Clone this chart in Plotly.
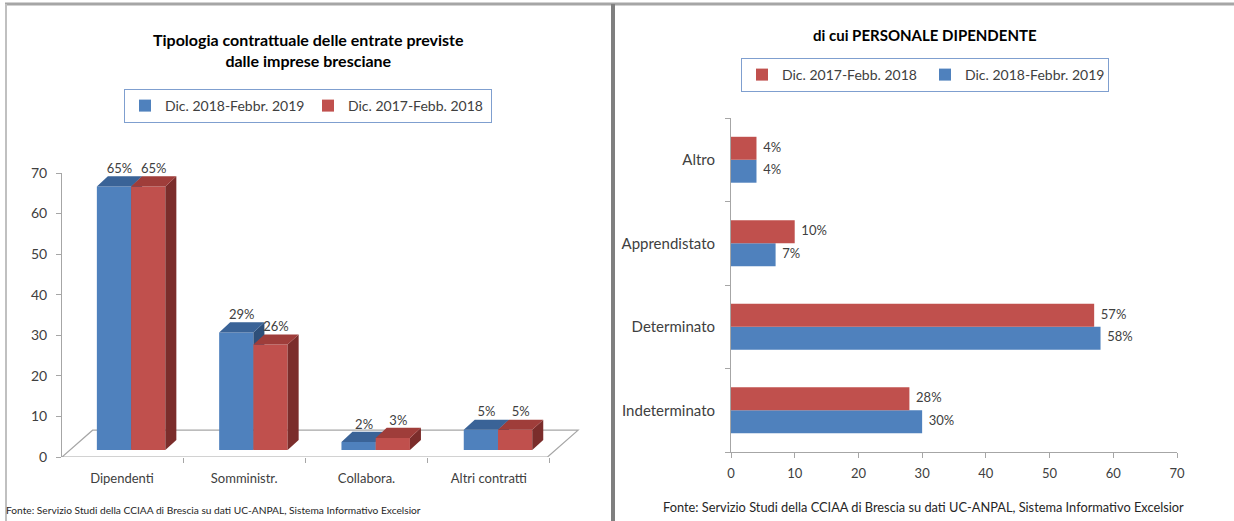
import plotly.graph_objects as go

# ---- data ---------------------------------------------------------------
left_categories = ["Dipendenti", "Somministr.", "Collabora.", "Altri contratti"]
left_2019 = [65, 29, 2, 5]
left_2018 = [65, 26, 3, 5]

right_categories = ["Indeterminato", "Determinato", "Apprendistato", "Altro"]
right_2019 = [30, 58, 7, 4]
right_2018 = [28, 57, 10, 4]

label_2019 = "Dic. 2018-Febbr. 2019"
label_2018 = "Dic. 2017-Febb. 2018"

title_left = "<b>Tipologia contrattuale delle entrate previste<br>dalle imprese bresciane</b>"
title_right = "<b>di cui PERSONALE DIPENDENTE</b>"
source = "Fonte: Servizio Studi della CCIAA di Brescia su dati UC-ANPAL, Sistema Informativo Excelsior"

# ---- style --------------------------------------------------------------
FONT = "Lato"
W_PX, H_PX = 1234, 521
BLUE, BLUE_TOP, BLUE_SIDE = "#4f81bd", "#3a6397", "#2e4f79"
RED, RED_TOP, RED_SIDE = "#c0504d", "#9f3d3a", "#7b2d2b"
TXT = "#404040"
AXIS = "#a6a6a6"

# pseudo-3D geometry for the left chart (data units)
BASE, SHIFT, BW, DX, DY = 1.7, 0.075, 0.28, 0.09, 2.5
BW_R = 0.275


def px(x):
    return x / W_PX


def py(y):
    return 1 - y / H_PX


def faces(values, offset):
    top_x, top_y, side_x, side_y = [], [], [], []
    for i, v in enumerate(values):
        x0 = i + SHIFT + offset
        x1 = x0 + BW
        t = BASE + v
        top_x += [x0, x0 + DX, x1 + DX, x1, x0, None]
        top_y += [t, t + DY, t + DY, t, t, None]
        side_x += [x1, x1 + DX, x1 + DX, x1, x1, None]
        side_y += [BASE, BASE + DY, t + DY, t, BASE, None]
    return top_x, top_y, side_x, side_y


fig = go.Figure()

# ---- left chart: one subplot per series so red sits in front ------------
for vals, name, front, top, side, offset, xa, ya in [
    (left_2019, label_2019, BLUE, BLUE_TOP, BLUE_SIDE, -BW, "x", "y"),
    (left_2018, label_2018, RED, RED_TOP, RED_SIDE, 0.0, "x3", "y3"),
]:
    pos = [i + SHIFT for i in range(len(vals))]
    fig.add_trace(go.Bar(
        x=pos, y=vals, base=BASE, width=BW, offset=offset,
        marker=dict(color=front, line=dict(width=0)),
        name=name, legend="legend", xaxis=xa, yaxis=ya, hoverinfo="skip",
    ))
    tx, ty, sx, sy = faces(vals, offset)
    fig.add_trace(go.Scatter(x=sx, y=sy, fill="toself", fillcolor=side, mode="lines",
                             line=dict(width=0), showlegend=False, xaxis=xa, yaxis=ya,
                             hoverinfo="skip"))
    fig.add_trace(go.Scatter(x=tx, y=ty, fill="toself", fillcolor=top, mode="lines",
                             line=dict(width=0), showlegend=False, xaxis=xa, yaxis=ya,
                             hoverinfo="skip"))
    fig.add_trace(go.Scatter(
        x=[p + offset + BW / 2 + DX / 2 for p in pos],
        y=[BASE + v + DY for v in vals],
        text=[f"{v}%" for v in vals], mode="text", textposition="top center",
        textfont=dict(size=13, color=TXT, family=FONT),
        showlegend=False, cliponaxis=False, xaxis=xa, yaxis=ya, hoverinfo="skip",
    ))

# ---- right chart --------------------------------------------------------
for vals, name, color, offset, rank in [
    (right_2019, label_2019, BLUE, -BW_R, 2),
    (right_2018, label_2018, RED, 0.0, 1),
]:
    pos = list(range(len(vals)))
    fig.add_trace(go.Bar(
        x=vals, y=pos, orientation="h", width=BW_R, offset=offset,
        marker=dict(color=color, line=dict(width=0)),
        name=name, legend="legend2", legendrank=rank,
        xaxis="x2", yaxis="y2", hoverinfo="skip",
    ))
    fig.add_trace(go.Scatter(
        x=vals, y=[p + offset + BW_R / 2 for p in pos],
        text=[f"\u00a0\u00a0{v}%" for v in vals], mode="text", textposition="middle right",
        textfont=dict(size=13, color=TXT, family=FONT),
        showlegend=False, cliponaxis=False, xaxis="x2", yaxis="y2", hoverinfo="skip",
    ))

# ---- axes ---------------------------------------------------------------
lx0, lx_end = 62, 580
lcat_px = 122.3
lrange = [-0.49, -0.49 + (lx_end - lx0) / lcat_px]
ldom_y = [py(457), py(173)]

fig.update_layout(
    xaxis=dict(domain=[px(lx0), px(lx_end)], range=lrange, anchor="y",
               tickvals=list(range(len(left_categories))), ticktext=left_categories,
               ticks="", showline=False, showgrid=False, zeroline=False,
               ticklabelstandoff=12,
               tickfont=dict(size=13, color=TXT, family=FONT),
               minor=dict(tick0=0.5, dtick=1, ticks="outside", ticklen=5,
                          tickcolor=AXIS, showgrid=False)),
    yaxis=dict(domain=ldom_y, range=[0, 70], anchor="x", dtick=10,
               ticks="outside", ticklen=5, tickcolor=AXIS, ticklabelstandoff=6,
               showline=True, linecolor=AXIS, linewidth=1, showgrid=False, zeroline=False,
               tickfont=dict(size=14, color=TXT, family=FONT)),
    xaxis3=dict(domain=[px(lx0), px(lx_end)], range=lrange, anchor="y3", overlaying="x",
                visible=False),
    yaxis3=dict(domain=ldom_y, range=[0, 70], anchor="x3", overlaying="y", visible=False),
    xaxis2=dict(domain=[px(731), px(1177)], range=[0, 70], anchor="y2", dtick=10,
                ticks="outside", ticklen=5, tickcolor=AXIS, ticklabelstandoff=4,
                showline=True, linecolor=AXIS, linewidth=1, showgrid=False, zeroline=False,
                tickfont=dict(size=13, color=TXT, family=FONT)),
    yaxis2=dict(domain=[py(452), py(118)], range=[-0.5, 3.5], anchor="x2",
                tickvals=list(range(len(right_categories))), ticktext=right_categories,
                ticks="", showline=True, linecolor=AXIS, linewidth=1,
                showgrid=False, zeroline=False, ticklabelstandoff=12,
                tickfont=dict(size=15, color=TXT, family=FONT),
                minor=dict(tick0=0.5, dtick=1, ticks="outside", ticklen=5,
                           tickcolor=AXIS, showgrid=False)),
)

# ---- legends ------------------------------------------------------------
legend_style = dict(orientation="h", bordercolor="#7f9fcf", borderwidth=1,
                    bgcolor="white", font=dict(size=14, color=TXT, family=FONT),
                    xanchor="center", yanchor="top", entrywidth=138, itemwidth=30)
fig.update_layout(
    legend=dict(x=px(308), y=py(89), **legend_style),
    legend2=dict(x=px(925), y=py(58), **legend_style),
)

# ---- titles, sources, panel frame --------------------------------------
annotations = [
    dict(x=px(308), y=py(50), text=title_left, font=dict(size=16, color="black", family=FONT)),
    dict(x=px(925), y=py(35), text=title_right, font=dict(size=15, color="black", family=FONT)),
    dict(x=px(4), y=py(510), text=source, xanchor="left",
         font=dict(size=10.2, color="#262626", family=FONT)),
    dict(x=px(923), y=py(507), text=source,
         font=dict(size=12.8, color="#262626", family=FONT)),
]
for a in annotations:
    a.update(xref="paper", yref="paper", showarrow=False, yanchor="middle")
    a.setdefault("xanchor", "center")

# floor of the 3D chart (decorative)
floor = dict(type="path", xref="x", yref="y", layer="below",
             path=f"M {lrange[0]},0 L {lrange[0] + 0.25},6.6 L {3.48 + 0.25},6.6 L 3.48,0 Z",
             line=dict(color=AXIS, width=1.2))

frame = [
    dict(type="line", xref="paper", yref="paper", x0=px(5), x1=1, y0=py(4), y1=py(4),
         line=dict(color="#a6a6a6", width=3)),
    dict(type="line", xref="paper", yref="paper", x0=px(6), x1=px(6), y0=py(4), y1=0,
         line=dict(color="#c0c0c0", width=2)),
    dict(type="line", xref="paper", yref="paper", x0=px(613), x1=px(613), y0=py(4), y1=0,
         line=dict(color="#7f7f7f", width=4)),
]

fig.update_layout(
    width=W_PX, height=H_PX,
    margin=dict(l=0, r=0, t=0, b=0, autoexpand=False),
    paper_bgcolor="white", plot_bgcolor="rgba(0,0,0,0)",
    font=dict(family=FONT, color=TXT),
    annotations=annotations,
    shapes=[floor] + frame,
    showlegend=True,
)

# drop the default 8px page margin so the figure sits at the window's corner
fig.write_html("out.html", config={"displayModeBar": False},
               post_script="document.body.style.margin='0';")
